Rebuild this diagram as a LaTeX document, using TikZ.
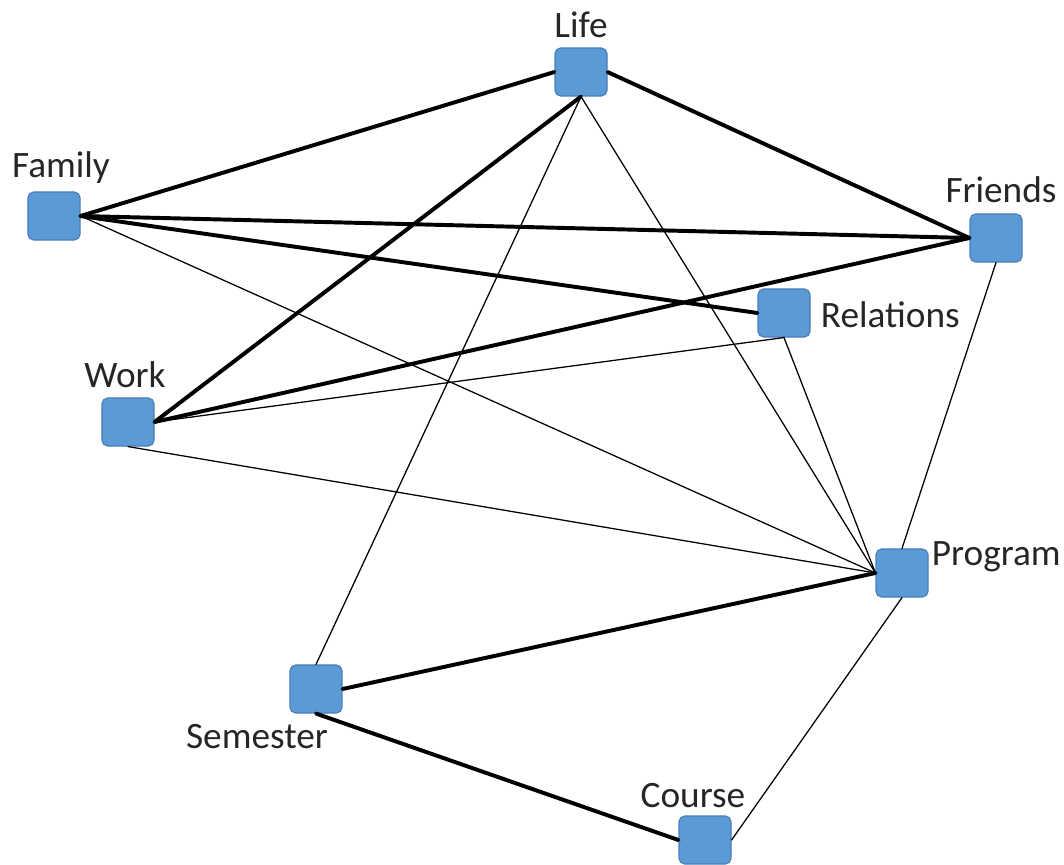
\documentclass[tikz,border=0pt]{standalone}
\usepackage{fontspec}
\setmainfont{Carlito}
\usepackage{tikz}
\definecolor{sbjjvb}{rgb}{0.357,0.608,0.835}
\definecolor{eeiiqq}{rgb}{0.29,0.49,0.72}
\definecolor{ttttttt}{rgb}{0.15,0.15,0.15}
\tikzstyle{every node}=[font=\fontsize{26.5}{30}\selectfont,text=ttttttt]
\tikzset{
  box/.style={draw=eeiiqq,fill=sbjjvb,line width=0.8pt,rounded corners=4pt,
    minimum width=1.3cm,minimum height=1.2cm,inner sep=0pt},
  strong/.style={line width=2.8pt,color=black},
  weak/.style={line width=0.9pt,color=black}
}

\begin{document}
\begin{tikzpicture}[line cap=round,line join=round,x=0.025cm,y=-0.025cm]
            \clip(0,0) rectangle (1064,865);
            % boxes
            \node [box] (life) at (581,72) {};
            \node [box] (family) at (54,216) {};
            \node [box] (friends) at (996,238) {};
            \node [box] (relations) at (784,313) {};
            \node [box] (work) at (128,422) {};
            \node [box] (program) at (902,573) {};
            \node [box] (semester) at (316,689) {};
            \node [box] (course) at (705,840) {};
            % labels
            \node (lifetxt) at (581,25) {Life};
            \node (familytxt) at (61,168) {Family};
            \node (friendstxt) at (1001,190) {Friends};
            \node [anchor=west] (relationstxt) at (816,315) {Relations};
            \node (worktxt) at (125,375) {Work};
            \node [anchor=west] (programtxt) at (927,557) {Program};
            \node (semestertxt) at (257,737) {Semester};
            \node (coursetxt) at (693,796) {Course};
            % thick edges
            \draw [strong] (family.east) -- (life.west);
            \draw [strong] (life.east) -- (friends.west);
            \draw [strong] (life.south) -- (work.east);
            \draw [strong] (family.east) -- (friends.west);
            \draw [strong] (family.east) -- (relations.west);
            \draw [strong] (work.east) -- (friends.west);
            \draw [strong] (semester.east) -- (program.west);
            \draw [strong] (semester.south) -- (course.west);
            % thin edges
            \draw [weak] (life.south) -- (semester.north);
            \draw [weak] (life.south) -- (program.west);
            \draw [weak] (family.east) -- (program.west);
            \draw [weak] (work.east) -- (relations.south);
            \draw [weak] (work.south) -- (program.west);
            \draw [weak] (relations.south) -- (program.west);
            \draw [weak] (friends.south) -- (program.north);
            \draw [weak] (program.south) -- (course.east);
\end{tikzpicture}
\end{document}
